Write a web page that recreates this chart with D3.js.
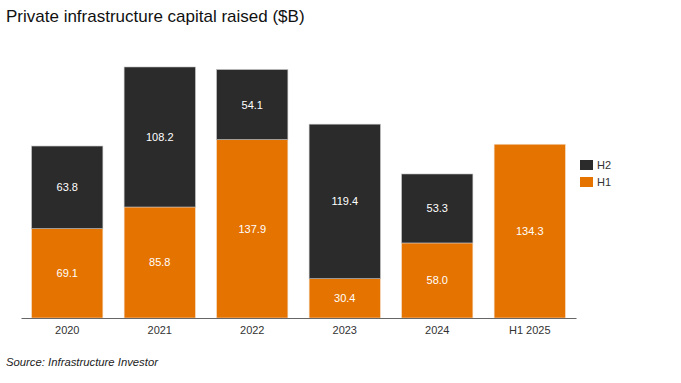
<!DOCTYPE html>
<html><head><meta charset="utf-8">
<script src="https://cdn.jsdelivr.net/npm/d3@7"></script>
<style>body{margin:0;background:#fff;font-family:"Liberation Sans",Arial,sans-serif;}</style>
</head><body>
<svg id="c" width="681" height="383"></svg>
<script>
const categories = ["2020","2021","2022","2023","2024","H1 2025"];
const h1Values = [69.1, 85.8, 137.9, 30.4, 58.0, 134.3];
const h2Values = [63.8, 108.2, 54.1, 119.4, 53.3, null];
const seriesNames = ["H2","H1"];
const colors = {H1:"#e57300", H2:"#2b2b2b"};

(function(){
const svg = d3.select("#c");
const plotLeft = 21, plotRight = 576, base = 318, plotTop = 67;
const x = d3.scaleBand().domain(categories).range([plotLeft, plotRight]).paddingInner(0.23).paddingOuter(0.115);
const maxTotal = d3.max(categories, (c,i)=> h1Values[i] + (h2Values[i]||0));
const y = d3.scaleLinear().domain([0, maxTotal]).range([base, plotTop]);

svg.append("text").attr("x",6).attr("y",22).attr("font-size",17).attr("fill","#111")
  .text("Private infrastructure capital raised ($B)");

const data = categories.map((c,i)=>({c, h1:h1Values[i], h2:h2Values[i]}));

const g = svg.append("g");
g.selectAll(".h1").data(data).enter().append("rect")
  .attr("x", d=>x(d.c)).attr("width", x.bandwidth())
  .attr("y", d=>y(d.h1)).attr("height", d=>y(0)-y(d.h1))
  .attr("fill", colors.H1).attr("stroke","#f3d9bf").attr("stroke-width",0.6);
g.selectAll(".h2").data(data.filter(d=>d.h2!=null)).enter().append("rect")
  .attr("x", d=>x(d.c)).attr("width", x.bandwidth())
  .attr("y", d=>y(d.h1+d.h2)).attr("height", d=>y(d.h1)-y(d.h1+d.h2))
  .attr("fill", colors.H2).attr("stroke","#bbbbbb").attr("stroke-width",0.6);

g.selectAll(".l1").data(data).enter().append("text")
  .attr("x", d=>x(d.c)+x.bandwidth()/2).attr("y", d=>(y(0)+y(d.h1))/2+4)
  .attr("text-anchor","middle").attr("font-size",11).attr("fill","#fff")
  .text(d=>d.h1.toFixed(1));
g.selectAll(".l2").data(data.filter(d=>d.h2!=null)).enter().append("text")
  .attr("x", d=>x(d.c)+x.bandwidth()/2).attr("y", d=>(y(d.h1)+y(d.h1+d.h2))/2+4)
  .attr("text-anchor","middle").attr("font-size",11).attr("fill","#fff")
  .text(d=>d.h2.toFixed(1));

const ax = svg.append("g").attr("transform",`translate(0,${base})`)
  .call(d3.axisBottom(x).tickSize(0).tickPadding(8));
ax.select(".domain").attr("stroke","#666").attr("stroke-width",1);
ax.selectAll("text").attr("font-size",11).attr("fill","#333").attr("font-family","Liberation Sans, Arial, sans-serif");

const lg = svg.append("g");
seriesNames.forEach((s,i)=>{
  lg.append("rect").attr("x",580).attr("y",160+i*17).attr("width",13).attr("height",10).attr("fill",colors[s]);
  lg.append("text").attr("x",597).attr("y",169+i*17).attr("font-size",11).attr("fill","#333").text(s);
});

svg.append("text").attr("x",6).attr("y",366).attr("font-size",11.3).attr("font-style","italic").attr("fill","#222")
  .text("Source: Infrastructure Investor");
})();
</script>
</body></html>
